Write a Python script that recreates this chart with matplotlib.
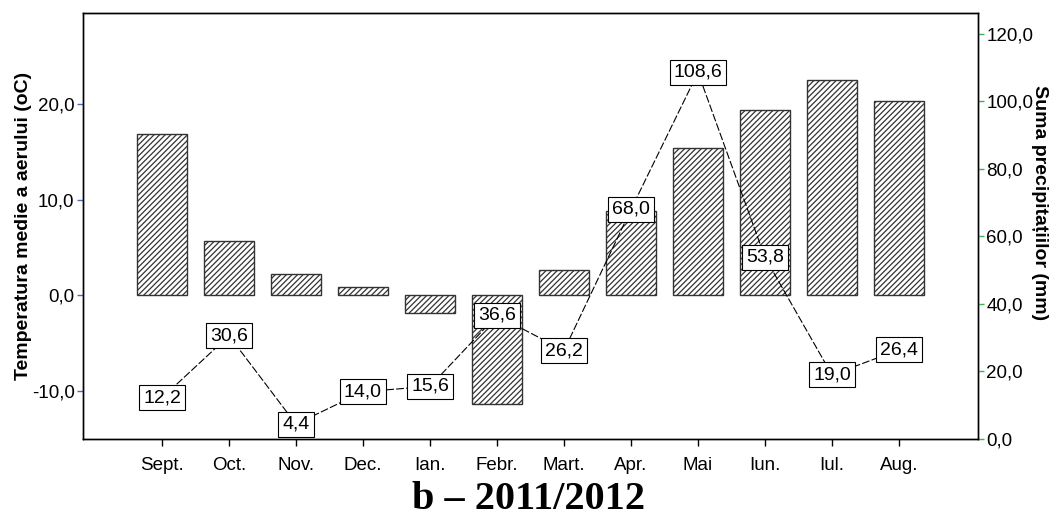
import matplotlib
matplotlib.use("Agg")
import matplotlib.pyplot as plt
import numpy as np

plt.rcParams["font.family"] = ["Liberation Sans", "DejaVu Sans"]
plt.rcParams["hatch.linewidth"] = 0.9
plt.rcParams["hatch.color"] = "#333333"

# ── Data ──────────────────────────────────────────────────────────────────────
months = ["Sept.", "Oct.", "Nov.", "Dec.", "Ian.", "Febr.", "Mart.",
          "Apr.", "Mai", "Iun.", "Iul.", "Aug."]
temperature = [16.9, 5.7, 2.2, 0.9, -1.8, -11.3, 2.7, 8.8, 15.4, 19.4, 22.5, 20.3]
precip = [12.2, 30.6, 4.4, 14.0, 15.6, 36.6, 26.2, 68.0, 108.6, 53.8, 19.0, 26.4]
temp_ticks = [-10, 0, 10, 20]
precip_ticks = [0, 20, 40, 60, 80, 100, 120]


def fmt(v):
    return f"{v:.1f}".replace(".", ",")


fig = plt.figure(figsize=(10.58, 5.21), dpi=100)
ax = fig.add_axes([0.0784, 0.1574, 0.8460, 0.8176])
x = np.arange(len(months))

ax.bar(x, temperature, width=0.76, color="white", edgecolor="#333333",
       linewidth=1.0, hatch="//////", zorder=2)
ax.set_xlim(-1.18, len(months) - 1 + 1.18)
ax.set_ylim(-15, 29.5)
ax.set_xticks(x)
ax.set_xticklabels(months, fontsize=13.5)
ax.set_yticks(temp_ticks)
ax.set_yticklabels([fmt(t) for t in temp_ticks], fontsize=13.5)
ax.tick_params(axis="y", color="#4a6cc4", length=4, width=1, pad=2)
ax.tick_params(axis="x", color="black", length=5, width=1, pad=8)
ax.set_ylabel("Temperatura medie a aerului (oC)", fontsize=14,
              fontweight="bold")
ax.yaxis.set_label_coords(-0.057, 0.50)

ax2 = ax.twinx()
ax2.set_ylim(0, 126.2)
ax2.plot(x, precip, color="black", linewidth=0.8, dashes=(7, 2), zorder=2)
for xi, p in zip(x, precip):
    ax2.text(xi, p, fmt(p), ha="center", va="center", fontsize=14, zorder=3,
             bbox=dict(boxstyle="square,pad=0.2", facecolor="white",
                       edgecolor="black", linewidth=0.8))
ax2.set_yticks(precip_ticks)
ax2.set_yticklabels([fmt(t) for t in precip_ticks], fontsize=13.5)
ax2.tick_params(axis="y", color="#3cb44b", length=4, width=1, pad=2)
ax2.set_ylabel("Suma precipitațiilor (mm)", fontsize=14, fontweight="bold",
               rotation=270, va="center")
ax2.yaxis.set_label_coords(1.069, 0.556)

for a in (ax, ax2):
    for s in a.spines.values():
        s.set_linewidth(1.0)
        s.set_color("black")

fig.text(0.5, 0.042, "b – 2011/2012", ha="center", va="center",
         fontsize=29, fontweight="bold", family=["Liberation Serif", "DejaVu Serif"])

fig.savefig("out.png", dpi=100)
